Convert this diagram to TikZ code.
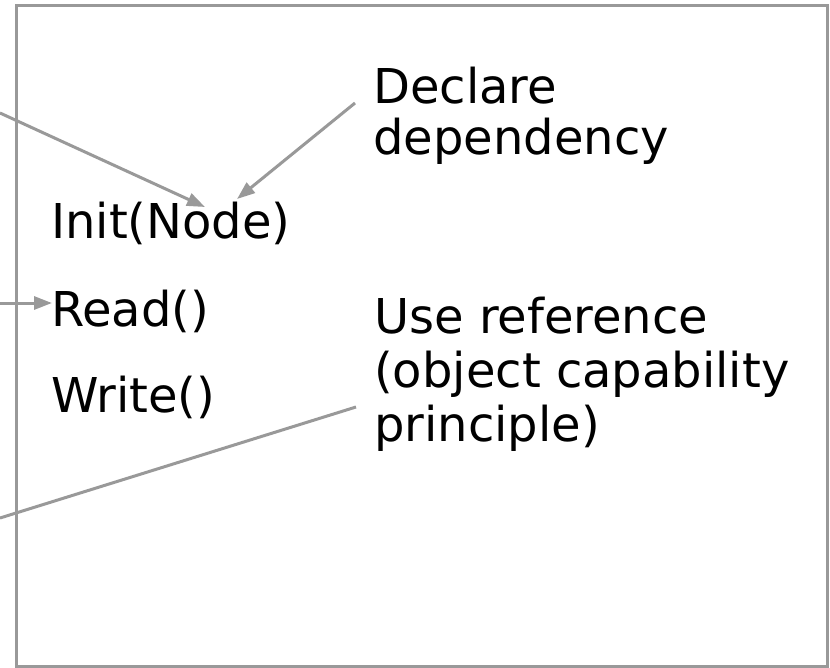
\documentclass[tikz,border=0pt]{standalone}
\usepackage{fontspec}
\setmainfont{DejaVu Sans}
\usetikzlibrary{arrows.meta}
\definecolor{linegray}{RGB}{153,153,153}
\begin{document}
\begin{tikzpicture}[x=1pt,y=-1pt,
  conn/.style={draw=linegray, line width=3pt},
  arr/.style={conn, -{Triangle[length=18pt,width=13pt]}},
  txt/.style={inner sep=0pt, anchor=base west, font=\fontsize{48}{51}\selectfont, align=left},
]
\useasboundingbox (0,0) rectangle (830,667);
\node[draw=linegray, line width=3pt, minimum width=811pt, minimum height=661pt, inner sep=0pt, anchor=north west] (box) at (14.5,4) {};
\node[txt] (init) at (51,238) {Init(Node)};
\node[txt] (read) at (51,326) {Read()};
\node[txt] (write) at (51,412) {Write()};
\node[txt] (decl) at (373,154) {Declare\\dependency};
\node[txt, font=\fontsize{48}{54}\selectfont] (useref) at (374,441) {Use reference\\(object capability\\principle)};
\coordinate (src1) at (0,113);
\coordinate (src2) at (0,303);
\coordinate (src3) at (0,518);
\draw[arr] (src1) -- ([shift={(154,-31)}]init.base west);
\draw[arr] ([shift={(-18,-51)}]decl.base west) -- ([shift={(186,-39)}]init.base west);
\draw[arr] (src2) -- ([shift={(1,-23)}]read.base west);
\draw[conn] ([shift={(-18,-34)}]useref.base west) -- (src3);
\end{tikzpicture}
\end{document}
